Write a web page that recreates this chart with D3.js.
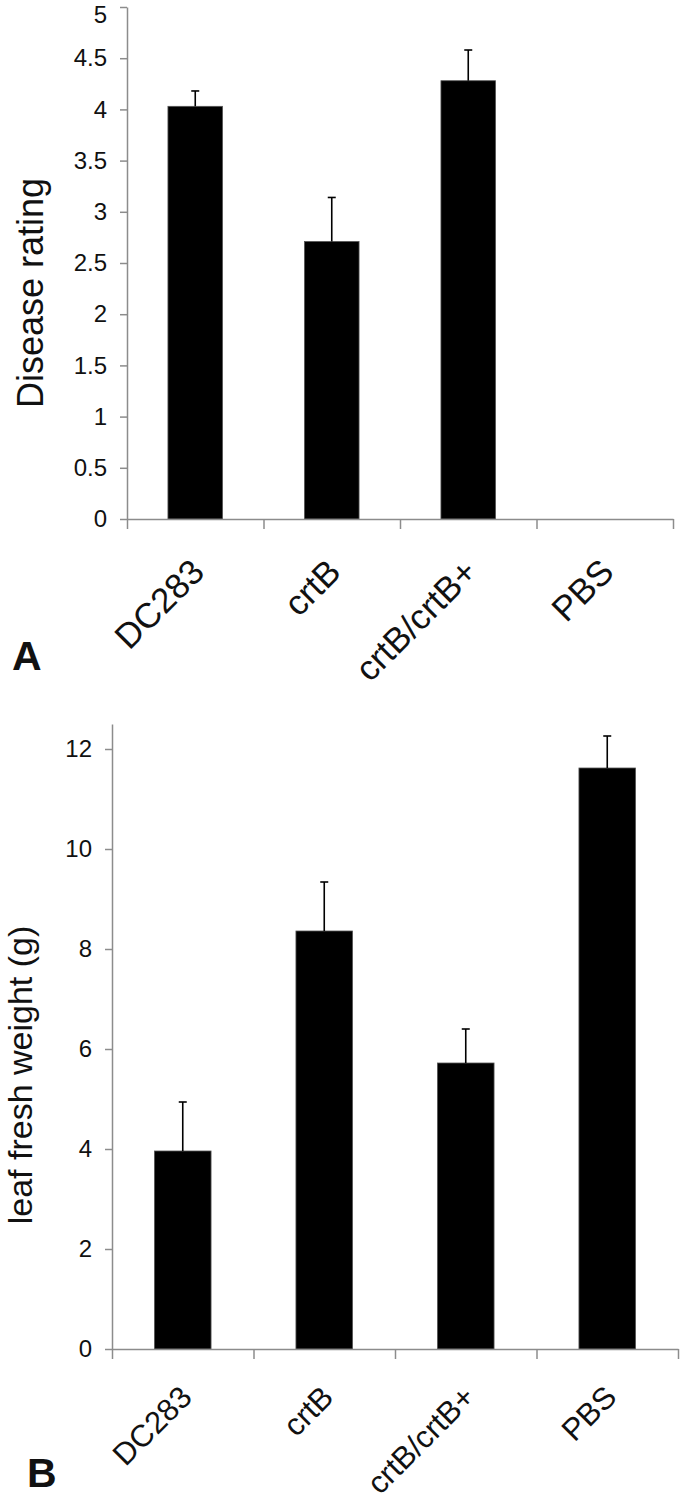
<!DOCTYPE html>
<meta charset="utf-8">
<style>
body{
	margin:0;
	background:#fff;
}
text{
	font-family:"Liberation Sans", Arial, sans-serif;
	fill:#111;
}
.axis path, .axis line{
	stroke:#8c8c8c;
	stroke-width:1.5px;
	fill:none;
}
.axis text{
	font-size:24px;
	fill:#111;
}
.bar{
	fill:#000;
	stroke:#555;
	stroke-width:0.8px;
}
.err{
	stroke:#000;
	stroke-width:1.6px;
}
.panel{
	font-weight:bold;
	font-size:41px;
}
</style>
<body>
<script src="https://d3js.org/d3.v7.min.js"></script>
<script>

var groups = ["DC283", "crtB", "crtB/crtB+", "PBS"];

var ratingMean = [4.03, 2.71, 4.28, 0];
var ratingErr  = [0.15, 0.43, 0.30, 0];
var ratingTicks = [0, 0.5, 1, 1.5, 2, 2.5, 3, 3.5, 4, 4.5, 5];

var weightMean = [3.96, 8.36, 5.72, 11.62];
var weightErr  = [0.98, 0.98, 0.68, 0.64];
var weightTicks = [0, 2, 4, 6, 8, 10, 12];

var svg = d3.select("body").append("svg").attr("width", 680).attr("height", 1502);

function panel(o){
	var y = d3.scaleLinear().domain([0, o.max]).range([o.y0, o.y1]);
	var x = d3.scaleBand().domain(groups).range([o.x0, o.x1]).paddingInner(0.6).paddingOuter(0.3);
	var xb = d3.scaleLinear().domain([0, groups.length]).range([o.x0, o.x1]);
	var g = svg.append("g");

	var rows = groups.map(function(d, i){ return {key:d, v:o.mean[i], e:o.err[i]}; });

	g.selectAll(".bar").data(rows).join("rect").attr("class","bar")
		.attr("x", d=>x(d.key))
		.attr("width", x.bandwidth())
		.attr("y", d=>y(d.v))
		.attr("height", d=>y(0)-y(d.v));

	var eb = rows.filter(d=>d.v>0);
	g.selectAll(".errv").data(eb).join("line").attr("class","err")
		.attr("x1", d=>x(d.key)+x.bandwidth()/2).attr("x2", d=>x(d.key)+x.bandwidth()/2)
		.attr("y1", d=>y(d.v)).attr("y2", d=>y(d.v+d.e));
	g.selectAll(".errc").data(eb).join("line").attr("class","err")
		.attr("x1", d=>x(d.key)+x.bandwidth()/2-4).attr("x2", d=>x(d.key)+x.bandwidth()/2+4)
		.attr("y1", d=>y(d.v+d.e)).attr("y2", d=>y(d.v+d.e));

	g.append("g").attr("class","axis").attr("transform","translate("+o.x0+",0)")
		.call(d3.axisLeft(y).tickValues(o.ticks).tickSize(7).tickSizeOuter(0).tickPadding(13).tickFormat(d3.format("")))
		.call(a=>a.selectAll("text").style("font-size", o.tickFont+"px"))
		.call(a=>a.selectAll(".tick").filter(d=>y(d)<12).select("text").attr("y", 8));

	g.append("g").attr("class","axis").attr("transform","translate(0,"+o.y0+")")
		.call(d3.axisBottom(xb).tickValues(d3.range(groups.length+1)).tickSize(10).tickSizeOuter(0).tickFormat(""));

	g.selectAll(".xl").data(groups).join("text")
		.attr("transform", d=>"translate("+(x(d)+x.bandwidth()/2+11)+","+(o.y0+o.labDy)+") rotate(-45)")
		.attr("text-anchor","end")
		.style("font-size", o.labFont+"px")
		.text(d=>d);

	g.append("text")
		.attr("transform","translate("+o.tx+","+o.ty+") rotate(-90)")
		.attr("text-anchor","middle")
		.style("font-size", o.titleFont+"px")
		.text(o.title);

	g.append("text").attr("class","panel").attr("x", o.px).attr("y", o.py).text(o.letter);
}

panel({mean:ratingMean, err:ratingErr, ticks:ratingTicks, max:5,
	x0:127, x1:673, y0:519, y1:7,
	title:"Disease rating", tx:43, ty:293, titleFont:36, tickFont:24, labFont:35, labDy:55,
	letter:"A", px:12, py:670});

panel({mean:weightMean, err:weightErr, ticks:weightTicks, max:12.5,
	x0:112, x1:678, y0:1349, y1:724,
	title:"leaf fresh weight (g)", tx:32, ty:1075, titleFont:34, tickFont:24, labFont:31, labDy:50,
	letter:"B", px:27, py:1487});

</script>
</body>
